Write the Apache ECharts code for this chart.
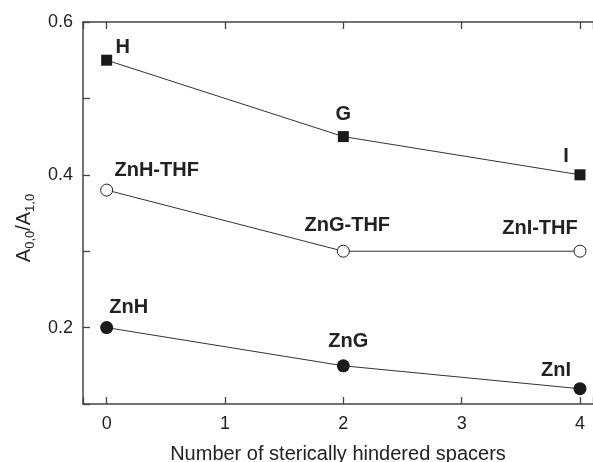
<!DOCTYPE html>
<html>
<head>
<meta charset="utf-8">
<script src="https://cdn.jsdelivr.net/npm/echarts@6.0.0/dist/echarts.min.js"></script>
<style>
  html, body { margin: 0; padding: 0; background: #fff; }
  #chart { width: 593px; height: 462px; }
</style>
</head>
<body>
<div id="chart"></div>
<script>
// number of sterically hindered spacers
const spacers = [0, 2, 4];

// free base series (squares)
const freeBaseNames = ['H', 'G', 'I'];
const freeBaseValues = [0.55, 0.45, 0.40];

// zinc complexes with THF (open circles)
const zincThfNames = ['ZnH-THF', 'ZnG-THF', 'ZnI-THF'];
const zincThfValues = [0.38, 0.30, 0.30];

// zinc complexes (filled circles)
const zincNames = ['ZnH', 'ZnG', 'ZnI'];
const zincValues = [0.20, 0.15, 0.12];

const fontFamily = '"Liberation Sans", Arial, Helvetica, sans-serif';
const ink = '#222';
const axisColor = '#444';

// label offsets [dx, dy] from the 'top' position of each point
const freeBaseOffsets = [[16, 8], [0, -2], [-14, 2]];
const zincThfOffsets = [[50, 2], [4, -4], [-40, -1]];
const zincOffsets = [[22, 1], [5, -3], [-24, 3]];

function buildPoints(values, names, offsets) {
  return values.map((v, i) => ({
    value: [spacers[i], v],
    label: {
      show: true,
      formatter: names[i],
      position: 'top',
      distance: 5,
      offset: offsets[i],
    },
  }));
}

const labelStyle = {
  color: ink,
  fontSize: 20,
  fontWeight: 'bold',
  fontFamily,
};

const chart = echarts.init(document.getElementById('chart'));

// the original frame runs past the right edge of the picture
const xAxisBase = {
  type: 'value',
  min: -0.2,
  max: 4.11,
  splitLine: { show: false },
  axisLine: { show: true, onZero: false, lineStyle: { color: axisColor, width: 1.5 } },
  axisTick: { show: true, inside: true, length: 7, lineStyle: { color: axisColor, width: 1.3 } },
};

chart.setOption({
  animation: false,
  backgroundColor: '#fff',
  grid: {
    left: 83,
    top: 22,
    bottom: 58,
    right: 0,
    containLabel: false,
    outerBoundsMode: 'none',
  },
  xAxis: [
    {
      ...xAxisBase,
      position: 'bottom',
      name: 'Number of sterically hindered spacers',
      nameLocation: 'middle',
      nameGap: 40,
      nameTextStyle: { color: ink, fontSize: 20, fontFamily },
      axisLabel: {
        color: ink,
        fontSize: 18,
        fontFamily,
        margin: 11,
        formatter: (v) => (Number.isInteger(v) ? String(v) : ''),
      },
    },
    {
      ...xAxisBase,
      position: 'top',
      axisLabel: { show: false },
    },
  ],
  yAxis: {
    type: 'value',
    min: 0.1,
    max: 0.6,
    interval: 0.1,
    splitLine: { show: false },
    axisLine: { show: true, onZero: false, lineStyle: { color: axisColor, width: 1.5 } },
    axisTick: { show: true, inside: true, length: 7, lineStyle: { color: axisColor, width: 1.3 } },
    axisLabel: {
      color: ink,
      fontSize: 18,
      fontFamily,
      margin: 10,
      formatter: (v) => {
        const k = Math.round(v * 10);
        return k % 2 === 0 ? (k / 10).toFixed(1) : '';
      },
    },
    name: '{a|A}{s|0,0}{a|/A}{s|1,0}',
    nameLocation: 'middle',
    nameGap: 48,
    nameTextStyle: {
      color: ink,
      fontFamily,
      padding: [0, 30, 0, 0],
      rich: {
        a: { fontSize: 20, lineHeight: 20, verticalAlign: 'top', color: ink, fontFamily },
        s: { fontSize: 13, lineHeight: 13, padding: [10, 0, 0, 0], verticalAlign: 'top', color: ink, fontFamily },
      },
    },
  },
  series: [
    {
      name: 'free base',
      type: 'line',
      xAxisIndex: 0,
      symbol: 'rect',
      symbolSize: 11,
      lineStyle: { color: '#333', width: 1 },
      itemStyle: { color: '#1a1a1a' },
      label: labelStyle,
      data: buildPoints(freeBaseValues, freeBaseNames, freeBaseOffsets),
    },
    {
      name: 'zinc THF',
      type: 'line',
      xAxisIndex: 0,
      symbol: 'circle',
      symbolSize: 12,
      lineStyle: { color: '#333', width: 1 },
      itemStyle: { color: '#fff', borderColor: '#222', borderWidth: 1 },
      label: labelStyle,
      data: buildPoints(zincThfValues, zincThfNames, zincThfOffsets),
    },
    {
      name: 'zinc',
      type: 'line',
      xAxisIndex: 0,
      symbol: 'circle',
      symbolSize: 13,
      lineStyle: { color: '#333', width: 1 },
      itemStyle: { color: '#1a1a1a' },
      label: labelStyle,
      data: buildPoints(zincValues, zincNames, zincOffsets),
    },
  ],
});
</script>
</body>
</html>
